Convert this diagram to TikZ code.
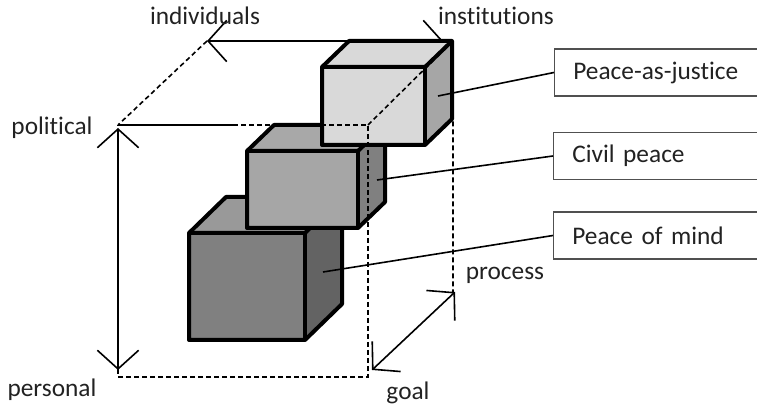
\documentclass[tikz,border=0pt]{standalone}
\usepackage{fontspec}
\setmainfont{Carlito}[Ligatures=NoCommon]
\usetikzlibrary{arrows.meta}

% draws a shaded cube: #1,#2 front top-left corner, #3 width, #4 height,
% #5 depth shift right, #6 depth shift up, #7 front, #8 top, #9 side colour
\newcommand{\peacecube}[9]{%
  \fill[#8] (#1,#2) -- ({#1+#5},{#2-#6}) -- ({#1+#3+#5},{#2-#6}) -- ({#1+#3},#2) -- cycle;
  \fill[#9] ({#1+#3},#2) -- ({#1+#3+#5},{#2-#6}) -- ({#1+#3+#5},{#2+#4-#6}) -- ({#1+#3},{#2+#4}) -- cycle;
  \fill[#7] (#1,#2) rectangle ({#1+#3},{#2+#4});
  \draw[cubeedge] (#1,#2) -- ({#1+#5},{#2-#6}) -- ({#1+#3+#5},{#2-#6}) -- ({#1+#3+#5},{#2+#4-#6}) -- ({#1+#3},{#2+#4}) -- (#1,{#2+#4}) -- cycle;
  \draw[cubeedge] (#1,#2) -- ({#1+#3},#2) -- ({#1+#3+#5},{#2-#6});
  \draw[cubeedge] ({#1+#3},#2) -- ({#1+#3},{#2+#4});
}

\definecolor{inkgray}{HTML}{222222}
\definecolor{boxline}{HTML}{505050}

\begin{document}
\begin{tikzpicture}[x=0.75pt,y=-0.75pt,
  font=\fontsize{19pt}{22pt}\selectfont,
  cubeedge/.style={line width=3pt,line join=round},
  guide/.style={line width=1.2pt,dash pattern=on 3.6pt off 2.4pt},
  axisline/.style={line width=1.2pt},
  twoway/.style={axisline,{Straight Barb[length=14pt,width=31pt]}-{Straight Barb[length=14pt,width=31pt]}},
  labelbox/.style={draw=boxline,line width=1.1pt,fill=white,text width=140pt,align=left,
                   inner xsep=14pt,minimum height=35.5pt,anchor=west,text=inkgray},
  axislabel/.style={text=inkgray,anchor=base,inner sep=0pt},
  leader/.style={line width=1.2pt}]

\useasboundingbox (0,0) rectangle (757,409);
\clip (0,0) rectangle (757,409);

% corners of the dashed space
\coordinate (ftl) at (118,125);
\coordinate (ftr) at (368,125);
\coordinate (fbl) at (118,377);
\coordinate (fbr) at (368,377);
\coordinate (btl) at (207,41);
\coordinate (btr) at (453,41);
\coordinate (bbr) at (453,293);

% individuals -- institutions axis, partly hidden by the cubes
\coordinate (indtip) at (207,41);
\coordinate (insttip) at (443,41);
\draw[twoway] (indtip) -- (insttip);

% the three cubes
\peacecube{189}{233}{116}{107}{37}{36}{black!50}{black!40}{black!61}
\peacecube{247}{151}{111}{77}{27}{26}{black!35}{black!34}{black!50}
\peacecube{322}{67}{103}{78}{27}{26}{black!15}{black!15}{black!35}

% dashed outline of the space
\draw[guide] (btl) -- (ftl);
\draw[axisline] (ftl) -- (233,125);
\draw[guide] (233,125) -- (ftr) -- (fbr) -- (fbl) -- (ftl);
\draw[guide] (ftr) -- (btr) -- (bbr);

% political -- personal and goal -- process axes
\coordinate (poltip) at (118,128);
\coordinate (pertip) at (118,370);
\draw[twoway] (poltip) -- (pertip);
\coordinate (goaltip) at (372,370);
\coordinate (proctip) at (455,292);
\draw[twoway] (goaltip) -- (proctip);

% axis labels
\node[axislabel] (individuals) at (205,25) {individuals};
\node[axislabel] (institutions) at (496,25) {institutions};
\node[axislabel] (political) at (52,135) {political};
\node[axislabel] (personal) at (52,397) {personal};
\node[axislabel] (goal) at (408,400) {goal};
\node[axislabel] (process) at (505,280) {process};

% labelled boxes
\node[labelbox] (justice) at (554,72.5) {Peace-as-justice};
\node[labelbox] (civil) at (553,156) {Civil peace};
\node[labelbox] (mind) at (553,235.5) {Peace of mind};

% leader lines from the cube sides
\coordinate (cjustice) at (438,96);
\coordinate (ccivil) at (377,180);
\coordinate (cmind) at (323,272);
\draw[leader] (cjustice) -- (justice.west);
\draw[leader] (ccivil) -- (civil.west);
\draw[leader] (cmind) -- (mind.west);
\end{tikzpicture}
\end{document}
